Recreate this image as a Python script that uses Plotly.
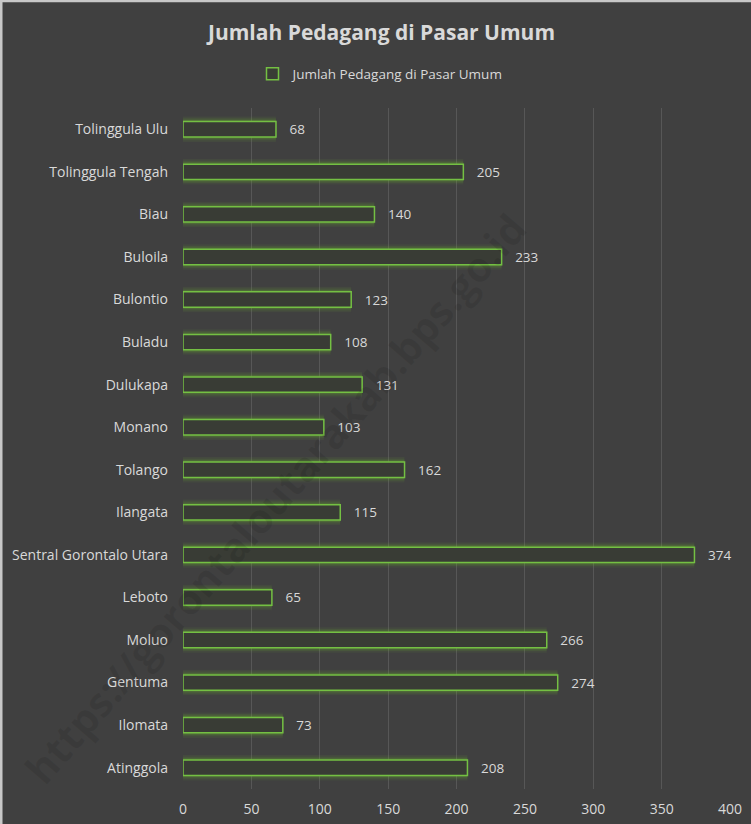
import plotly.graph_objects as go

categories = ["Tolinggula Ulu", "Tolinggula Tengah", "Biau", "Buloila", "Bulontio",
              "Buladu", "Dulukapa", "Monano", "Tolango", "Ilangata",
              "Sentral Gorontalo Utara", "Leboto", "Moluo", "Gentuma", "Ilomata", "Atinggola"]
values = [68, 205, 140, 233, 123, 108, 131, 103, 162, 115, 374, 65, 266, 274, 73, 208]
series_name = "Jumlah Pedagang di Pasar Umum"
x_ticks = [0, 50, 100, 150, 200, 250, 300, 350, 400]
watermark = "https://gorontaloutarakab.bps.go.id"

BG = "#404040"
TXT = "#d9d9d9"
FONT = "Open Sans"

fig = go.Figure()
# glow layers
for w, a in [(0.60, 0.08), (0.52, 0.12), (0.45, 0.20)]:
    fig.add_trace(go.Bar(y=categories, x=values, orientation="h", width=w,
                         marker=dict(color=f"rgba(110,180,45,{a})", line=dict(width=0)),
                         showlegend=False, hoverinfo="skip"))
fig.add_trace(go.Bar(y=categories, x=values, orientation="h", width=0.36,
                     name=series_name,
                     marker=dict(color="#393c35", line=dict(color="#74c043", width=1.5)),
                     text=values, texttemplate="   %{text}", textposition="outside",
                     constraintext="none",
                     textfont=dict(color=TXT, size=13.5, family=FONT),
                     cliponaxis=False))

# thin light border at top and left edge of the image
shapes = [
    dict(type="line", xref="paper", yref="paper", x0=-0.34, x1=1.05, y0=1.1575, y1=1.1575,
         line=dict(color="#c8c8c8", width=3)),
    dict(type="line", xref="paper", yref="paper", x0=-0.3327, x1=-0.3327, y0=-0.06, y1=1.16,
         line=dict(color="#c8c8c8", width=3)),
]

fig.update_layout(
    width=751, height=824,
    paper_bgcolor=BG, plot_bgcolor=BG,
    barmode="overlay",
    margin=dict(l=183, r=21, t=108, b=35, autoexpand=False),
    font=dict(family=FONT, color=TXT, size=14),
    title=dict(text="<b>Jumlah Pedagang di Pasar Umum</b>", x=0.508, xref="container",
               xanchor="center", y=0.96, yanchor="middle",
               font=dict(size=21, color=TXT, family=FONT)),
    legend=dict(orientation="h", x=(381 - 183) / 547, xanchor="center", xref="paper",
                y=1.05, yanchor="middle", font=dict(size=13.5, color=TXT, family=FONT),
                bgcolor="rgba(0,0,0,0)", itemwidth=30),
    shapes=shapes,
    annotations=[dict(text=f"<b>{watermark}</b>", xref="paper", yref="paper",
                      x=(275 - 183) / 547, y=(789 - 498) / 681, xanchor="center",
                      yanchor="middle", showarrow=False, textangle=-49,
                      font=dict(size=41, color="rgba(0,0,0,0.09)", family=FONT))],
    showlegend=True,
)
fig.update_xaxes(range=[0, 400], tickvals=x_ticks, showgrid=True,
                 gridcolor="#575757", gridwidth=1, zeroline=False, showline=False,
                 ticks="", ticklabelstandoff=10, tickfont=dict(size=14, color=TXT))
fig.update_yaxes(autorange="reversed", showgrid=False, zeroline=False, showline=False,
                 ticks="", ticklabelstandoff=14, tickfont=dict(size=14, color=TXT))

fig.write_html("out.html", config={"displayModeBar": False},
               post_script="document.body.style.margin='0';document.body.style.overflow='hidden';")
